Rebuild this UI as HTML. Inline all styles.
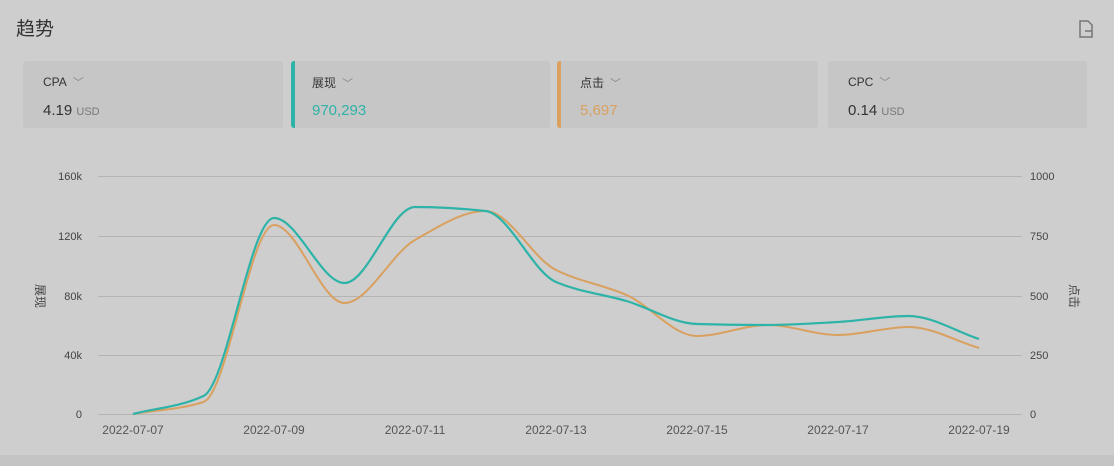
<!DOCTYPE html>
<html><head><meta charset="utf-8"><style>
body{margin:0;width:1114px;height:466px;background:#cecece;font-family:"Liberation Sans","Noto Sans CJK SC",sans-serif;position:relative;overflow:hidden}
.t{position:absolute;left:16px;top:14px;font-size:19px;color:#333}
.card{position:absolute;top:61px;height:67px;background:#c6c6c6;border-radius:3px;box-sizing:border-box}
.lab{position:absolute;left:20px;top:13px;font-size:12px;color:#333}
.lab span{color:#888;margin-left:6px;font-size:11px}
.val{position:absolute;left:20px;top:41px;font-size:15px;color:#333}
.val small{font-size:11px;color:#777}
.bot{position:absolute;left:0;top:455px;width:1114px;height:11px;background:#c4c4c4}
</style></head><body>
<div class="t">趋势</div>
<svg style="position:absolute;left:1078px;top:20px" width="16" height="18"><path d="M2 1h8l4 4v12H2z" fill="none" stroke="#777" stroke-width="1.5"/><path d="M7 11h7" stroke="#777" stroke-width="1.5"/></svg>
<div class="card" style="left:23px;width:260px"><div class="lab">CPA<span>﹀</span></div><div class="val">4.19 <small>USD</small></div></div>
<div class="card" style="left:291px;width:259px;border-left:4px solid #2db3a8"><div class="lab" style="left:17px">展现<span>﹀</span></div><div class="val" style="left:17px;color:#2db3a8">970,293</div></div>
<div class="card" style="left:557px;width:261px;border-left:4px solid #d9a060"><div class="lab" style="left:19px">点击<span>﹀</span></div><div class="val" style="left:19px;color:#d9a060">5,697</div></div>
<div class="card" style="left:828px;width:259px"><div class="lab">CPC<span>﹀</span></div><div class="val">0.14 <small>USD</small></div></div>
<svg id="c" style="position:absolute;left:0;top:0" width="1114" height="466" font-family="Liberation Sans, Noto Sans CJK SC, sans-serif" font-size="11" fill="#444">
<g stroke="#b4b4b4" stroke-width="1">
<line x1="98" x2="1022" y1="176.5" y2="176.5"/><line x1="98" x2="1022" y1="236.5" y2="236.5"/><line x1="98" x2="1022" y1="296.5" y2="296.5"/><line x1="98" x2="1022" y1="355.5" y2="355.5"/><line x1="98" x2="1022" y1="414.5" y2="414.5"/>
</g>
<g text-anchor="end"><text x="82" y="180">160k</text><text x="82" y="240">120k</text><text x="82" y="300">80k</text><text x="82" y="359">40k</text><text x="82" y="418">0</text></g>
<g><text x="1030" y="180">1000</text><text x="1030" y="240">750</text><text x="1030" y="300">500</text><text x="1030" y="359">250</text><text x="1030" y="418">0</text></g>
<g text-anchor="middle" font-size="12" fill="#555"><text x="133" y="434">2022-07-07</text><text x="274" y="434">2022-07-09</text><text x="415" y="434">2022-07-11</text><text x="556" y="434">2022-07-13</text><text x="697" y="434">2022-07-15</text><text x="838" y="434">2022-07-17</text><text x="979" y="434">2022-07-19</text></g>
<text transform="translate(36 296) rotate(90)" text-anchor="middle" font-size="12">展现</text>
<text transform="translate(1070 296) rotate(90)" text-anchor="middle" font-size="12">点击</text>
<path id="o" fill="none" stroke="#d9a060" stroke-width="2"/>
<path id="g" fill="none" stroke="#2db3a8" stroke-width="2.2"/>
</svg>
<div class="bot"></div>
<script>
function p(ys){var n=ys.length,h=70.5,x=ys.map(function(_,i){return 133+h*i});
var dl=[],m=[];for(var i=0;i<n-1;i++)dl.push((ys[i+1]-ys[i])/h);
m[0]=dl[0];m[n-1]=dl[n-2];
for(i=1;i<n-1;i++){if(dl[i-1]*dl[i]<=0)m[i]=0;else m[i]=2/(1/dl[i-1]+1/dl[i]);}
var d="M"+x[0]+" "+ys[0];
for(i=0;i<n-1;i++){d+=" C"+(x[i]+h/3)+" "+(ys[i]+m[i]*h/3)+" "+(x[i+1]-h/3)+" "+(ys[i+1]-m[i+1]*h/3)+" "+x[i+1]+" "+ys[i+1];}
return d}
document.getElementById("g").setAttribute("d",p([414,396,218,283,207,211,282,301,324,325,322,316,339]));
document.getElementById("o").setAttribute("d",p([414,402,225,303,240,211,270,295,336,325,335,327,348]));
</script>
</body></html>
